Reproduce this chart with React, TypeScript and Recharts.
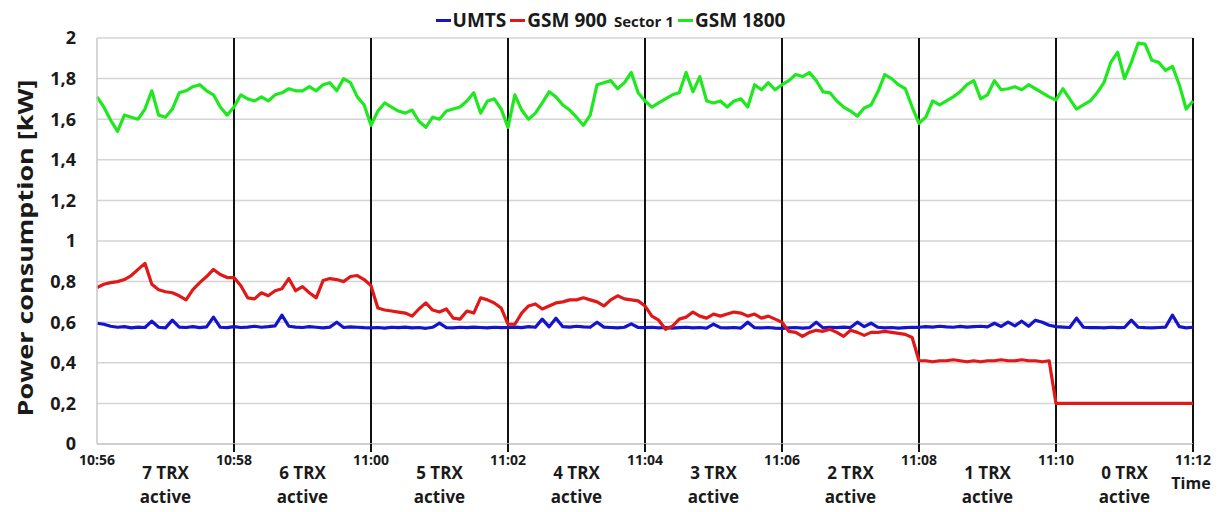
import React from 'react';
import { LineChart, Line, XAxis, YAxis, CartesianGrid, ReferenceLine } from 'recharts';

// sampling grid: seconds after 10:56, every 6 s
const times: number[] = Array.from({ length: 161 }, (_, i) => i * 6);

const umts: number[] = [
  0.595, 0.59, 0.58, 0.575, 0.578, 0.572, 0.576, 0.574, 0.605, 0.575, 0.572, 0.61, 0.576, 0.574, 0.578, 0.573, 0.577, 0.625, 0.575, 0.573,
  0.578, 0.574, 0.576, 0.58, 0.575, 0.578, 0.582, 0.635, 0.58, 0.576, 0.574, 0.578, 0.575, 0.572, 0.576, 0.6, 0.574, 0.577, 0.575, 0.573,
  0.572, 0.574, 0.571, 0.575, 0.573, 0.576, 0.572, 0.574, 0.57, 0.575, 0.595, 0.573, 0.572, 0.575, 0.573, 0.576, 0.574, 0.572, 0.575, 0.573,
  0.574, 0.576, 0.573, 0.578, 0.575, 0.615, 0.577, 0.62, 0.578, 0.576, 0.58, 0.577, 0.575, 0.6, 0.576, 0.574, 0.572, 0.575, 0.592, 0.574,
  0.573, 0.575, 0.572, 0.574, 0.571, 0.573, 0.575, 0.572, 0.574, 0.571, 0.59, 0.573, 0.572, 0.574, 0.571, 0.6, 0.573, 0.572, 0.574, 0.571,
  0.57, 0.572, 0.574, 0.571, 0.573, 0.6, 0.572, 0.575, 0.573, 0.576, 0.574, 0.6, 0.578, 0.595, 0.575, 0.572, 0.574, 0.571, 0.573, 0.575,
  0.575, 0.578, 0.576, 0.58, 0.577, 0.575, 0.579, 0.576, 0.578, 0.58, 0.577, 0.595, 0.579, 0.6, 0.582, 0.605, 0.58, 0.61, 0.6, 0.585,
  0.578, 0.576, 0.574, 0.62, 0.575, 0.573, 0.574, 0.572, 0.575, 0.573, 0.574, 0.61, 0.575, 0.573, 0.572, 0.574, 0.576, 0.635, 0.578, 0.572,
  0.575,
];

const gsm900: number[] = [
  0.77, 0.787, 0.795, 0.8, 0.81, 0.83, 0.86, 0.89, 0.787, 0.76, 0.75, 0.745, 0.73, 0.71, 0.76, 0.795, 0.825, 0.86, 0.835, 0.82,
  0.82, 0.78, 0.72, 0.715, 0.745, 0.73, 0.755, 0.765, 0.815, 0.755, 0.775, 0.745, 0.72, 0.805, 0.815, 0.81, 0.8, 0.825, 0.83, 0.81,
  0.78, 0.67, 0.66, 0.655, 0.65, 0.645, 0.63, 0.665, 0.695, 0.66, 0.65, 0.665, 0.62, 0.615, 0.655, 0.645, 0.72, 0.71, 0.695, 0.67,
  0.59, 0.59, 0.645, 0.68, 0.69, 0.665, 0.68, 0.695, 0.7, 0.71, 0.71, 0.72, 0.71, 0.7, 0.68, 0.71, 0.73, 0.715, 0.71, 0.705,
  0.68, 0.63, 0.61, 0.565, 0.58, 0.615, 0.625, 0.65, 0.63, 0.62, 0.64, 0.63, 0.64, 0.65, 0.645, 0.63, 0.64, 0.62, 0.63, 0.615,
  0.6, 0.555, 0.55, 0.53, 0.55, 0.56, 0.555, 0.565, 0.55, 0.53, 0.56, 0.55, 0.535, 0.55, 0.55, 0.555, 0.55, 0.545, 0.54, 0.525,
  0.41, 0.41, 0.405, 0.41, 0.41, 0.415, 0.41, 0.405, 0.41, 0.405, 0.41, 0.41, 0.415, 0.41, 0.41, 0.415, 0.41, 0.41, 0.405, 0.41,
  0.2, 0.2, 0.2, 0.2, 0.2, 0.2, 0.2, 0.2, 0.2, 0.2, 0.2, 0.2, 0.2, 0.2, 0.2, 0.2, 0.2, 0.2, 0.2, 0.2,
  0.2,
];

const gsm1800: number[] = [
  1.71, 1.66, 1.595, 1.54, 1.62, 1.61, 1.6, 1.65, 1.74, 1.62, 1.61, 1.65, 1.73, 1.74, 1.76, 1.77, 1.74, 1.72, 1.66, 1.62,
  1.66, 1.72, 1.7, 1.69, 1.71, 1.69, 1.72, 1.73, 1.75, 1.74, 1.74, 1.76, 1.74, 1.77, 1.78, 1.74, 1.8, 1.78, 1.71, 1.67,
  1.57, 1.64, 1.68, 1.66, 1.64, 1.63, 1.645, 1.59, 1.56, 1.61, 1.6, 1.64, 1.65, 1.66, 1.69, 1.73, 1.63, 1.69, 1.7, 1.65,
  1.56, 1.72, 1.645, 1.6, 1.63, 1.68, 1.735, 1.71, 1.67, 1.645, 1.61, 1.57, 1.62, 1.77, 1.78, 1.79, 1.75, 1.78, 1.83, 1.73,
  1.69, 1.66, 1.68, 1.7, 1.72, 1.73, 1.83, 1.735, 1.81, 1.69, 1.68, 1.69, 1.66, 1.69, 1.7, 1.66, 1.77, 1.745, 1.78, 1.745,
  1.77, 1.79, 1.82, 1.81, 1.83, 1.79, 1.735, 1.73, 1.69, 1.66, 1.64, 1.615, 1.655, 1.67, 1.735, 1.82, 1.8, 1.77, 1.75, 1.66,
  1.58, 1.61, 1.69, 1.67, 1.69, 1.71, 1.735, 1.77, 1.79, 1.7, 1.72, 1.79, 1.745, 1.75, 1.76, 1.745, 1.77, 1.75, 1.73, 1.71,
  1.695, 1.75, 1.7, 1.65, 1.67, 1.69, 1.73, 1.78, 1.88, 1.93, 1.8, 1.88, 1.975, 1.97, 1.89, 1.88, 1.84, 1.86, 1.77, 1.65,
  1.69,
];

const yTicks: number[] = [0, 0.2, 0.4, 0.6, 0.8, 1, 1.2, 1.4, 1.6, 1.8, 2];
const yTickLabels: string[] = ['0', '0,2', '0,4', '0,6', '0,8', '1', '1,2', '1,4', '1,6', '1,8', '2'];
const xTicks: number[] = [0, 60, 120, 180, 240, 300, 360, 420, 480, 540, 600, 660, 720, 780, 840, 900, 960];
const timeLabels: string[] = ['10:56', '10:58', '11:00', '11:02', '11:04', '11:06', '11:08', '11:10', '11:12'];
const segmentLabels: string[] = ['7 TRX', '6 TRX', '5 TRX', '4 TRX', '3 TRX', '2 TRX', '1 TRX', '0 TRX'];
const boundaries: number[] = [120, 240, 360, 480, 600, 720, 840, 960];
const seriesKeys: string[] = ['umts', 'gsm900', 'gsm1800'];
const seriesNames: string[] = ['UMTS', 'GSM 900', 'GSM 1800'];
const seriesColors: string[] = ['#1414cc', '#e01818', '#1ee81e'];

const data = times.map((t, i) => ({ t, umts: umts[i], gsm900: gsm900[i], gsm1800: gsm1800[i] }));

const FONT = '"Open Sans", "Noto Sans", sans-serif';

const XTick = (props: any) => {
  const { x, y, payload } = props;
  const v = payload.value as number;
  const k = Math.round(v / 60);
  if (k % 2 === 0) {
    return (
      <g>
        {v > 0 && <line x1={x} x2={x} y1={y - 8} y2={y} stroke="#111" strokeWidth={2} />}
        <text x={x} y={y + 13} textAnchor="middle" fontSize={14} fontWeight="bold" fill="#1a1a1a" fontFamily={FONT}>
          {timeLabels[k / 2]}
        </text>
        {v === 960 && (
          <text x={x - 2} y={y + 37} textAnchor="middle" fontSize={16} fontWeight="bold" fill="#1a1a1a" fontFamily={FONT}>
            Time
          </text>
        )}
      </g>
    );
  }
  return (
    <g>
      <text x={x} y={y + 27} textAnchor="middle" fontSize={17} fontWeight="bold" fill="#1a1a1a" fontFamily={FONT}>
        {segmentLabels[(k - 1) / 2]}
      </text>
      <text x={x} y={y + 51} textAnchor="middle" fontSize={17} fontWeight="bold" fill="#1a1a1a" fontFamily={FONT}>
        active
      </text>
    </g>
  );
};

const YLabel = (props: any) => {
  const vb = props.viewBox || { x: 0, y: 38, width: 97, height: 406 };
  const cx = vb.x + 24;
  const cy = vb.y + vb.height / 2 + 7;
  return (
    <text
      transform={`translate(${cx},${cy}) rotate(-90)`}
      textAnchor="middle"
      dominantBaseline="central"
      fontSize={22}
      fontWeight="bold"
      fill="#1a1a1a"
      fontFamily={FONT}
      textLength={337}
      lengthAdjust="spacingAndGlyphs"
    >
      Power consumption [kW]
    </text>
  );
};

const LegendOverlay = () => (
  <div
    style={{
      position: 'absolute',
      top: 6,
      left: 0,
      width: 1225,
      height: 28,
      display: 'flex',
      justifyContent: 'center',
      alignItems: 'center',
      fontFamily: FONT,
      fontWeight: 'bold',
      color: '#1a1a1a',
    }}
  >
    {seriesNames.map((name, i) => (
      <div key={name} style={{ display: 'flex', alignItems: 'center', marginRight: 4 }}>
        <span style={{ display: 'inline-block', width: 15, height: 3, background: seriesColors[i], marginRight: 2 }} />
        <span style={{ fontSize: 19, whiteSpace: 'nowrap' }}>
          {name}
          {i === 1 && <span style={{ fontSize: 15, marginLeft: 7 }}>Sector 1</span>}
        </span>
      </div>
    ))}
  </div>
);

export default function App() {
  return (
    <div style={{ position: 'absolute', left: 0, top: 0, width: 1225, height: 512, background: '#fff', fontFamily: FONT }}>
      <LineChart width={1225} height={512} data={data} margin={{ top: 38, right: 32, bottom: 8, left: 0 }}>
        <CartesianGrid vertical={false} stroke="#d4d4d4" strokeWidth={1.5} />
        <XAxis
          dataKey="t"
          type="number"
          domain={[0, 960]}
          ticks={xTicks}
          interval={0}
          height={60}
          tickSize={8}
          tickMargin={0}
          tickLine={false}
          axisLine={{ stroke: '#c8c8c8', strokeWidth: 1.5 }}
          tick={<XTick />}
        />
        <YAxis
          type="number"
          domain={[0, 2]}
          ticks={yTicks}
          interval={0}
          width={97}
          tickLine={false}
          tickSize={6}
          tickMargin={15}
          axisLine={{ stroke: '#c8c8c8', strokeWidth: 1.5 }}
          tickFormatter={(v: number) => yTickLabels[yTicks.indexOf(v)] ?? String(v)}
          tick={{ fontSize: 18, fontWeight: 'bold', fill: '#1a1a1a', fontFamily: FONT }}
          label={{ content: (p: any) => <YLabel {...p} /> }}
        />
        {boundaries.map((b) => (
          <ReferenceLine key={b} x={b} stroke="#111" strokeWidth={2} />
        ))}
        {seriesKeys.map((k, i) => (
          <Line
            key={k}
            dataKey={k}
            name={seriesNames[i]}
            stroke={seriesColors[i]}
            strokeWidth={3.2}
            strokeLinejoin="round"
            dot={false}
            activeDot={false}
            isAnimationActive={false}
            type="linear"
          />
        ))}
      </LineChart>
      <LegendOverlay />
    </div>
  );
}
